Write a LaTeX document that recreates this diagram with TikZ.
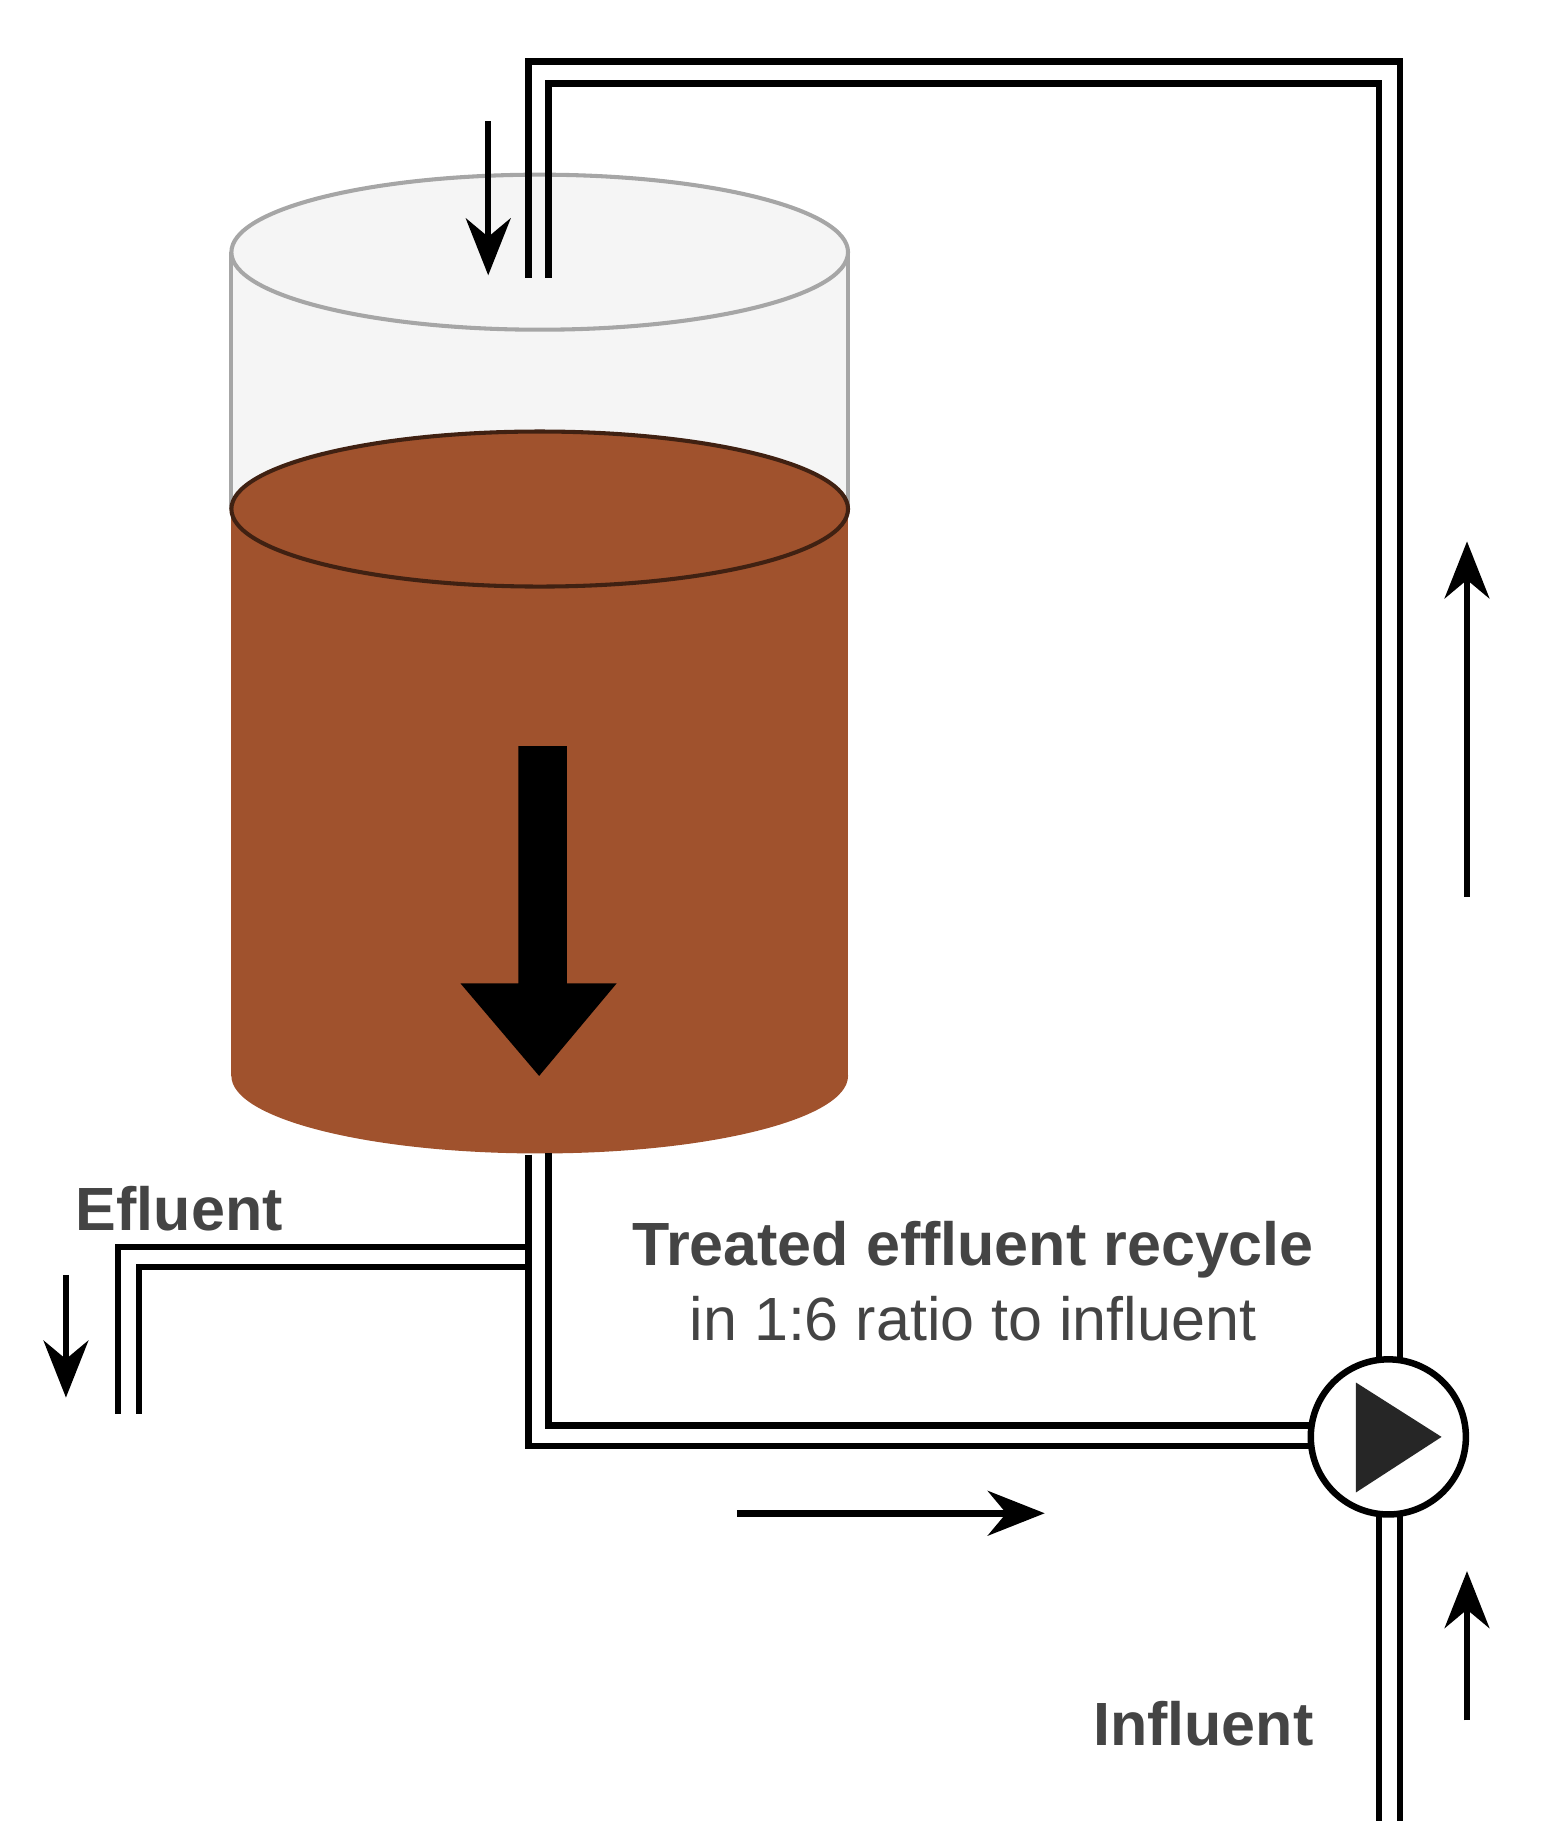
\documentclass[tikz,border=0pt]{standalone}
\usepackage{fontspec}
\setmainfont{Liberation Sans}
\usetikzlibrary{arrows.meta}
\definecolor{brownliq}{HTML}{A0522D}
\definecolor{txtgray}{HTML}{444444}
\begin{document}
\begin{tikzpicture}[x=0.01cm,y=-0.01cm,
  pipe/.style={line width=1.6pt},
  flow/.style={line width=1.6pt,-{Stealth[length=14pt,width=11pt]}},
  lbl/.style={font=\fontsize{15}{18}\selectfont\bfseries}]
\useasboundingbox (0,0) rectangle (1333,1574);
% tank glass part
\fill[gray!8] (200,218) rectangle (733,440);
\draw[gray!70,line width=1pt] (200,218) -- (200,440) (733,218) -- (733,440);
% liquid
\fill[brownliq] (200,440) rectangle (733,930);
\fill[brownliq] (466.5,930) ellipse[x radius=266.5,y radius=67];
\draw[black!60!brownliq,line width=1pt,fill=brownliq] (466.5,440) ellipse[x radius=266.5,y radius=67];
\draw[gray!70,line width=1pt,fill=gray!8] (466.5,218) ellipse[x radius=266.5,y radius=67];
% big arrow
\fill[black] (448,645) -- (490,645) -- (490,850) -- (533,850) -- (466,930) -- (398,850) -- (448,850) -- cycle;
% pipes
\coordinate (p1) at (457,240); \coordinate (p2) at (474,240);
\draw[pipe] (p1) -- (457,53) -- (1210,53) -- (1210,1176);
\draw[pipe] (p2) -- (474,72) -- (1192,72) -- (1192,1178);
\draw[pipe] (457,998) -- (457,1250) -- (1135,1250);
\draw[pipe] (474,997) -- (474,1232) -- (1134,1232);
\draw[pipe] (457,1078) -- (102,1078) -- (102,1222);
\draw[pipe] (457,1095) -- (120,1095) -- (120,1222);
\draw[pipe] (1192,1307) -- (1192,1574) (1210,1306) -- (1210,1574);
% pump
\node[circle,draw,line width=1.6pt,fill=white,minimum size=1.34cm,inner sep=0] (pump) at (1200,1242) {};
\fill[black!85] (1172,1195) -- (1246,1242) -- (1172,1290) -- cycle;
% flow arrows
\coordinate (a1) at (422,105); \coordinate (a1e) at (422,238);
\draw[flow] (a1) -- (a1e);
\coordinate (a2) at (57,1102); \coordinate (a2e) at (57,1208);
\draw[flow] (a2) -- (a2e);
\coordinate (a3) at (1268,775); \coordinate (a3e) at (1268,468);
\draw[flow] (a3) -- (a3e);
\coordinate (a4) at (637,1308); \coordinate (a4e) at (903,1308);
\draw[flow] (a4) -- (a4e);
\coordinate (a5) at (1268,1487); \coordinate (a5e) at (1268,1358);
\draw[flow] (a5) -- (a5e);
% labels
\node[lbl,text=txtgray] (ef) at (155,1045) {Efluent};
\node[lbl,text=txtgray] (tr) at (841,1080) {Treated effluent recycle};
\node[font=\fontsize{15}{18}\selectfont,text=txtgray] (ra) at (841,1140) {in 1:6 ratio to influent};
\node[lbl,text=txtgray] (inf) at (1040,1490) {Influent};
\end{tikzpicture}
\end{document}
